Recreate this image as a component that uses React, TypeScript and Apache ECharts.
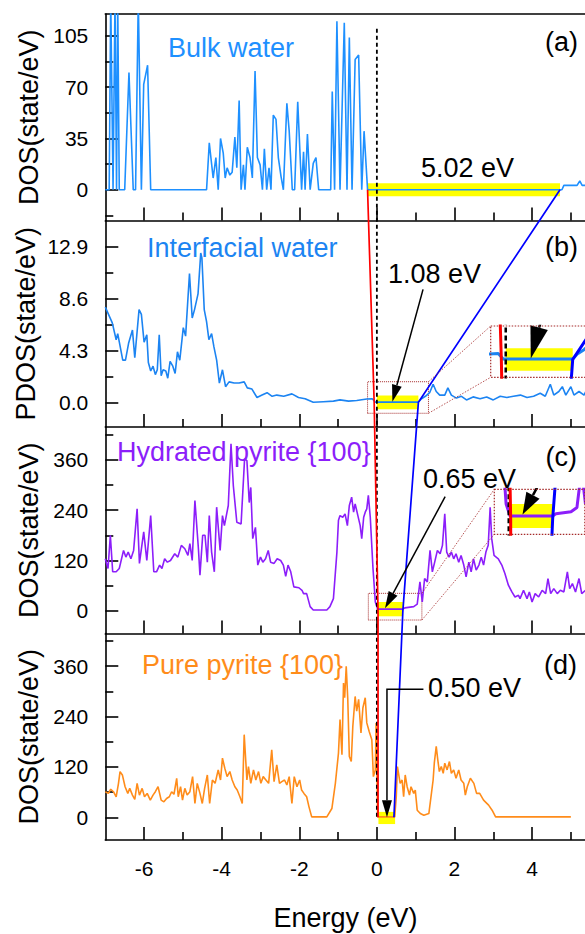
import React, { useEffect, useRef } from "react";
import * as echarts from "echarts";

// ---------------- DATA ----------------
const energyMajorTicks = [-6, -4, -2, 0, 2, 4];
const energyMinorTicks = [-5, -3, -1, 1, 3, 5];

const panelAxisNames = ["DOS(state/eV)", "PDOS(state/eV)", "DOS(state/eV)", "DOS(state/eV)"];
const panelTitles = ["Bulk water", "Interfacial water", "Hydrated pyrite {100}", "Pure pyrite {100}"];
const panelLetters = ["(a)", "(b)", "(c)", "(d)"];
const gapLabels = ["5.02 eV", "1.08 eV", "0.65 eV", "0.50 eV"];

const yMajorTicks = [[0, 35, 70, 105], [0, 4.3, 8.6, 12.9], [0, 120, 240, 360], [0, 120, 240, 360]];
const yMinorTicks = [[-17.5, 17.5, 52.5, 87.5], [2.15, 6.45, 10.75], [60, 180, 300, 420], [60, 180, 300, 420]];
const yRanges = [[-21, 120], [-2.05, 15.1], [-54, 438], [-54, 438]];

// band edges (eV): start / end of the yellow gap bars, red (VBM) and blue (CBM) connector points
const gapStart = [-0.24, 0.0, 0.03, 0.04];
const gapEnd = [4.72, 1.07, 0.67, 0.47];
const vbmEnergy = [-0.24, -0.07, 0.03, 0.03];
const cbmEnergy = [4.72, 1.07, 0.67, 0.44];
const yellowBand = [[-4.5, 4.5], [-0.57, 0.57], [-13, 21], [-16, 13]];
const dashTopValue = 110;

// arrows [energy, value]
const arrowBTail = [1.19, 9.38];
const arrowBTip = [0.4, 0.05];
const arrowCTail = [1.76, 272];
const arrowCTip = [0.21, 6];
const arrowDPath = [[1.2, 305], [0.26, 305], [0.26, 0]];

// zoom boxes (data ranges)
const insetBX = [-0.24, 1.33];
const insetBY = [-0.91, 1.71];
const insetCX = [-0.22, 1.16];
const insetCY = [-21.9, 41.7];

const bulkWaterDos = [
  [-7.0, 0], [-6.9, 0], [-6.86, 130], [-6.8, 0], [-6.75, 130], [-6.71, 0], [-6.68, 130], [-6.64, 0],
  [-6.5, 0], [-6.39, 80], [-6.28, 0], [-6.22, 0], [-6.15, 130], [-6.07, 0], [-6.01, 72], [-5.91, 85],
  [-5.83, 0], [-4.39, 0], [-4.32, 32], [-4.22, 8], [-4.15, 22], [-4.09, 0], [-4.03, 35], [-3.96, 25],
  [-3.91, 8], [-3.86, 15], [-3.79, 10], [-3.73, 12], [-3.66, 36], [-3.61, 15], [-3.55, 61], [-3.5, 0],
  [-3.44, 17], [-3.4, 0], [-3.34, 29], [-3.27, 22], [-3.21, 8], [-3.14, 81], [-3.08, 22], [-3.01, 17],
  [-2.95, 0], [-2.9, 28], [-2.84, 0], [-2.78, 15], [-2.73, 0], [-2.67, 51], [-2.6, 48], [-2.54, 22],
  [-2.47, 9], [-2.41, 0], [-2.32, 59], [-2.26, 40], [-2.18, 0], [-2.12, 0], [-2.04, 60], [-1.94, 0],
  [-1.89, 26], [-1.85, 0], [-1.79, 38], [-1.72, 0], [-1.64, 18], [-1.57, 22], [-1.5, 0], [-1.19, 0],
  [-1.15, 67], [-1.09, 0], [-1.03, 115], [-0.95, 0], [-0.84, 114], [-0.77, 0], [-0.71, 104], [-0.64, 0],
  [-0.56, 89], [-0.47, 92], [-0.39, 0], [-0.33, 40], [-0.24, 0], [4.77, 0], [4.82, 3], [5.16, 3],
  [5.23, 6], [5.29, 3], [5.38, 3]
];

const interfacialWaterDos = [
  [-7.0, 7.9], [-6.82, 6.6], [-6.72, 5.2], [-6.68, 5.7], [-6.55, 3.5], [-6.48, 3.5], [-6.4, 4.9],
  [-6.3, 6.0], [-6.24, 3.7], [-6.13, 7.7], [-6.07, 7.3], [-6.0, 5.0], [-5.93, 5.6], [-5.89, 3.3],
  [-5.83, 2.6], [-5.77, 3.0], [-5.71, 2.3], [-5.66, 2.7], [-5.61, 5.6], [-5.56, 2.2], [-5.51, 2.7],
  [-5.44, 2.6], [-5.39, 2.0], [-5.33, 3.4], [-5.26, 3.0], [-5.2, 2.4], [-5.14, 4.2], [-5.08, 3.5],
  [-4.99, 6.2], [-4.93, 5.5], [-4.83, 10.7], [-4.76, 7.0], [-4.7, 7.7], [-4.61, 9.0], [-4.54, 12.4],
  [-4.51, 12.0], [-4.45, 7.7], [-4.39, 6.7], [-4.33, 5.2], [-4.26, 5.7], [-4.2, 4.6], [-4.13, 3.5],
  [-4.06, 1.6], [-3.98, 2.7], [-3.9, 1.3], [-3.81, 1.7], [-3.68, 1.6], [-3.55, 1.6], [-3.42, 1.7],
  [-3.34, 1.2], [-3.22, 1.1], [-3.09, 0.4], [-2.96, 0.6], [-2.83, 0.8], [-2.7, 0.5], [-2.58, 0.6],
  [-2.4, 0.5], [-2.19, 0.7], [-2.02, 0.4], [-1.85, 0.3], [-1.64, 0.0], [-1.38, 0.05], [-1.12, 0.1],
  [-0.95, 0.2], [-0.73, 0.1], [-0.52, 0.15], [-0.26, 0.28], [-0.12, 0.3], [-0.04, 0.02], [1.07, 0.02],
  [1.15, 0.3], [1.25, 0.5], [1.36, 0.8], [1.45, 1.5], [1.53, 0.9], [1.62, 0.6], [1.75, 0.6], [1.83, 1.2],
  [1.92, 0.6], [2.05, 0.35], [2.18, 0.5], [2.31, 0.2], [2.48, 0.45], [2.66, 0.3], [2.83, 0.45], [3.0, 0.2],
  [3.18, 0.5], [3.35, 0.4], [3.52, 0.5], [3.7, 0.6], [3.87, 0.4], [4.04, 0.5], [4.21, 0.75], [4.34, 0.5],
  [4.47, 1.5], [4.56, 0.6], [4.69, 0.9], [4.78, 1.3], [4.87, 0.6], [5.0, 1.3], [5.08, 0.6], [5.21, 0.9],
  [5.34, 0.6], [5.4, 1.0]
];

const hydratedPyriteDos = [
  [-7.0, 124], [-6.93, 101], [-6.87, 180], [-6.81, 93], [-6.72, 93], [-6.64, 101], [-6.53, 144], [-6.47, 128],
  [-6.41, 140], [-6.34, 124], [-6.27, 144], [-6.18, 243], [-6.12, 113], [-6.01, 188], [-5.93, 120], [-5.83, 227],
  [-5.75, 93], [-5.68, 93], [-5.6, 109], [-5.54, 101], [-5.47, 124], [-5.4, 116], [-5.32, 120], [-5.21, 136],
  [-5.13, 128], [-5.04, 156], [-4.95, 148], [-4.87, 132], [-4.82, 160], [-4.76, 120], [-4.69, 263], [-4.6, 148],
  [-4.56, 85], [-4.49, 180], [-4.43, 180], [-4.37, 116], [-4.32, 227], [-4.26, 140], [-4.19, 93], [-4.13, 247],
  [-4.04, 144], [-3.98, 227], [-3.93, 203], [-3.83, 251], [-3.76, 398], [-3.7, 298], [-3.61, 211], [-3.5, 207],
  [-3.41, 362], [-3.35, 358], [-3.29, 258], [-3.25, 294], [-3.2, 172], [-3.13, 199], [-3.07, 109], [-3.0, 128],
  [-2.94, 116], [-2.87, 124], [-2.8, 144], [-2.74, 116], [-2.65, 113], [-2.57, 124], [-2.48, 120], [-2.41, 109],
  [-2.35, 82], [-2.29, 109], [-2.22, 93], [-2.14, 57], [-2.01, 55], [-1.93, 49], [-1.89, 41], [-1.81, 41],
  [-1.72, 10], [-1.64, 2], [-1.29, 2], [-1.21, 10], [-1.12, 29], [-1.03, 140], [-0.99, 216], [-0.95, 227],
  [-0.88, 223], [-0.82, 231], [-0.76, 203], [-0.71, 251], [-0.65, 271], [-0.6, 235], [-0.56, 255], [-0.49, 227],
  [-0.43, 203], [-0.39, 172], [-0.34, 223], [-0.3, 235], [-0.26, 243], [-0.22, 275], [-0.17, 223], [-0.1, 101],
  [-0.04, 21], [0.02, 4], [0.67, 4], [0.72, 7], [0.95, 10], [1.04, 16], [1.11, 69], [1.17, 21], [1.23, 77],
  [1.3, 69], [1.37, 144], [1.43, 93], [1.49, 116], [1.56, 144], [1.63, 136], [1.69, 156], [1.75, 231], [1.8, 140],
  [1.86, 128], [1.92, 140], [1.98, 124], [2.04, 136], [2.11, 116], [2.17, 132], [2.24, 109], [2.3, 81], [2.37, 116],
  [2.43, 93], [2.49, 124], [2.56, 97], [2.63, 109], [2.69, 128], [2.75, 109], [2.81, 140], [2.87, 156], [2.92, 247],
  [2.96, 172], [3.02, 132], [3.13, 124], [3.22, 109], [3.3, 89], [3.39, 61], [3.48, 45], [3.56, 33], [3.65, 37],
  [3.69, 29], [3.78, 49], [3.87, 29], [3.93, 45], [4.0, 21], [4.08, 41], [4.17, 33], [4.26, 49], [4.35, 41],
  [4.41, 77], [4.48, 41], [4.56, 53], [4.65, 41], [4.73, 49], [4.82, 45], [4.91, 93], [4.97, 53], [5.04, 65],
  [5.12, 45], [5.21, 77], [5.28, 41], [5.38, 49]
];

const purePyriteDos = [
  [-7.0, 61], [-6.92, 57], [-6.86, 67], [-6.79, 61], [-6.72, 49], [-6.66, 81], [-6.62, 109], [-6.56, 101],
  [-6.49, 73], [-6.42, 57], [-6.37, 69], [-6.3, 53], [-6.24, 43], [-6.18, 81], [-6.12, 53], [-6.05, 69],
  [-5.99, 49], [-5.92, 57], [-5.84, 41], [-5.77, 53], [-5.71, 61], [-5.64, 73], [-5.56, 41], [-5.49, 37],
  [-5.42, 45], [-5.35, 49], [-5.29, 61], [-5.23, 55], [-5.16, 93], [-5.12, 49], [-5.06, 73], [-5.01, 41],
  [-4.95, 69], [-4.89, 53], [-4.82, 61], [-4.75, 97], [-4.69, 33], [-4.63, 81], [-4.56, 57], [-4.5, 33],
  [-4.44, 69], [-4.37, 101], [-4.31, 33], [-4.24, 89], [-4.17, 81], [-4.09, 113], [-4.03, 89], [-3.98, 141],
  [-3.92, 117], [-3.86, 97], [-3.79, 109], [-3.73, 89], [-3.66, 73], [-3.6, 65], [-3.53, 49], [-3.47, 33],
  [-3.42, 197], [-3.35, 89], [-3.31, 121], [-3.25, 81], [-3.18, 113], [-3.12, 89], [-3.05, 109], [-2.99, 81],
  [-2.93, 97], [-2.86, 89], [-2.79, 81], [-2.71, 161], [-2.65, 85], [-2.58, 125], [-2.51, 81], [-2.45, 85],
  [-2.38, 89], [-2.32, 77], [-2.26, 97], [-2.19, 33], [-2.13, 97], [-2.06, 73], [-1.99, 89], [-1.94, 65],
  [-1.88, 57], [-1.81, 49], [-1.75, 25], [-1.68, 1], [-1.29, 1], [-1.16, 21], [-1.07, 81], [-0.99, 153],
  [-0.95, 233], [-0.9, 149], [-0.86, 320], [-0.83, 285], [-0.79, 360], [-0.75, 281], [-0.71, 145], [-0.66, 133],
  [-0.62, 217], [-0.56, 288], [-0.52, 253], [-0.47, 281], [-0.41, 201], [-0.36, 261], [-0.3, 285], [-0.26, 225],
  [-0.2, 205], [-0.13, 185], [-0.09, 97], [-0.04, 113], [-0.02, 225], [0.02, 1], [0.46, 1], [0.5, 49],
  [0.53, 121], [0.6, 81], [0.65, 89], [0.69, 49], [0.73, 101], [0.78, 73], [0.84, 53], [0.88, 73], [0.95, 57],
  [0.99, 65], [1.04, 17], [1.12, 9], [1.21, 5], [1.34, 9], [1.45, 89], [1.48, 129], [1.53, 169], [1.57, 137],
  [1.61, 109], [1.66, 121], [1.71, 105], [1.75, 129], [1.81, 113], [1.87, 133], [1.92, 105], [1.98, 113],
  [2.04, 93], [2.11, 113], [2.17, 89], [2.24, 81], [2.28, 53], [2.33, 73], [2.41, 93], [2.5, 81], [2.57, 57],
  [2.65, 57], [2.75, 41], [2.88, 29], [2.97, 17], [3.06, 1], [5.0, 1]
];

const panelData = [bulkWaterDos, interfacialWaterDos, hydratedPyriteDos, purePyriteDos];

// ---------------- STYLE / LAYOUT ----------------
const FONT = "Liberation Sans, Arial, Helvetica, sans-serif";
const BLACK = "#000000";
const RED = "#FF0000";
const BLUE = "#0000FF";
const YELLOW = "#FFFF00";
const BOX = "#A52A2A";
const panelColors = ["#1E90FF", "#1C84F2", "#8C1EFA", "#FF8C1A"];

const PLOT_LEFT = 105.3;
const PLOT_WIDTH = 480.3;
const PANEL_TOPS = [14, 220.5, 427, 633.5];
const PANEL_HEIGHT = 206.5;
const NAME_GAPS = [63, 66, 63, 63];
const X_MIN = -7;
const X_MAX = 5.38;
const INSET_B_RECT = { left: 490.7, top: 326, width: 98.3, height: 51.3 };
const INSET_C_RECT = { left: 494.3, top: 489.3, width: 90.5, height: 45 };

const textItems = [
  { text: panelTitles[0], x: 168, y: 47.5, color: panelColors[0], align: "left" },
  { text: panelLetters[0], x: 578, y: 42, color: BLACK, align: "right" },
  { text: gapLabels[0], x: 421, y: 168, color: BLACK, align: "left" },
  { text: panelTitles[1], x: 147, y: 248, color: panelColors[1], align: "left" },
  { text: panelLetters[1], x: 578, y: 247, color: BLACK, align: "right" },
  { text: gapLabels[1], x: 388, y: 274, color: BLACK, align: "left" },
  { text: panelTitles[2], x: 117, y: 452, color: panelColors[2], align: "left" },
  { text: panelLetters[2], x: 577, y: 457, color: BLACK, align: "right" },
  { text: gapLabels[2], x: 423, y: 479, color: BLACK, align: "left" },
  { text: panelTitles[3], x: 142, y: 665, color: panelColors[3], align: "left" },
  { text: panelLetters[3], x: 577, y: 665, color: BLACK, align: "right" },
  { text: gapLabels[3], x: 428, y: 688, color: BLACK, align: "left" }
];

function buildBase(): any {
  const grid: any[] = [];
  PANEL_TOPS.forEach((t) =>
    grid.push({ left: PLOT_LEFT, top: t, width: PLOT_WIDTH, height: PANEL_HEIGHT, outerBoundsMode: "none" })
  );
  grid.push({ ...INSET_B_RECT, outerBoundsMode: "none" });
  grid.push({ ...INSET_C_RECT, outerBoundsMode: "none" });

  const xAxis: any[] = [];
  const yAxis: any[] = [];
  for (let i = 0; i < 4; i++) {
    xAxis.push({
      type: "value", gridIndex: i, min: X_MIN, max: X_MAX, position: "bottom",
      axisLine: { show: true, onZero: false, lineStyle: { color: BLACK, width: 1.6 } },
      axisTick: { show: true, inside: true, length: 13, customValues: energyMajorTicks, lineStyle: { color: BLACK, width: 1.6 } },
      axisLabel: { show: i === 3, customValues: energyMajorTicks, fontSize: 21, color: BLACK, margin: 18, fontFamily: FONT },
      splitLine: { show: false },
      name: i === 3 ? "Energy (eV)" : "",
      nameLocation: "middle", nameGap: 64, nameMoveOverlap: false,
      nameTextStyle: { fontSize: 27, color: BLACK, fontFamily: FONT }
    });
    xAxis.push({
      type: "value", gridIndex: i, min: X_MIN, max: X_MAX, position: "bottom",
      axisLine: { show: false, onZero: false },
      axisTick: { show: true, inside: true, length: 8, customValues: energyMinorTicks, lineStyle: { color: BLACK, width: 1.6 } },
      axisLabel: { show: false }, splitLine: { show: false }
    });
    const fmt = i === 1 ? (v: number) => v.toFixed(1) : (v: number) => String(v);
    yAxis.push({
      type: "value", gridIndex: i, min: yRanges[i][0], max: yRanges[i][1], position: "left",
      axisLine: { show: true, onZero: false, lineStyle: { color: BLACK, width: 1.6 } },
      axisTick: { show: true, inside: true, length: 13, customValues: yMajorTicks[i], lineStyle: { color: BLACK, width: 1.6 } },
      axisLabel: { show: true, customValues: yMajorTicks[i], formatter: fmt, fontSize: 21, color: BLACK, margin: 17, fontFamily: FONT },
      splitLine: { show: false },
      name: panelAxisNames[i], nameLocation: "middle", nameGap: NAME_GAPS[i], nameMoveOverlap: false,
      nameTextStyle: { fontSize: 27, color: BLACK, fontFamily: FONT }
    });
    yAxis.push({
      type: "value", gridIndex: i, min: yRanges[i][0], max: yRanges[i][1], position: "left",
      axisLine: { show: false, onZero: false },
      axisTick: { show: true, inside: true, length: 8, customValues: yMinorTicks[i], lineStyle: { color: BLACK, width: 1.6 } },
      axisLabel: { show: false }, splitLine: { show: false }
    });
  }
  // index 8: top frame line of panel (a)
  xAxis.push({
    type: "value", gridIndex: 0, min: X_MIN, max: X_MAX, position: "top",
    axisLine: { show: true, onZero: false, lineStyle: { color: BLACK, width: 1.6 } },
    axisTick: { show: false }, axisLabel: { show: false }, splitLine: { show: false }
  });
  // inset axes: x 9,10 ; y 8,9
  const hidden = (gi: number, r: number[]) => ({ type: "value", gridIndex: gi, min: r[0], max: r[1], show: false });
  xAxis.push(hidden(4, insetBX));
  xAxis.push(hidden(5, insetCX));
  yAxis.push(hidden(4, insetBY));
  yAxis.push(hidden(5, insetCY));

  const series: any[] = [];
  for (let i = 0; i < 4; i++) {
    const areas: any[] = [
      [
        { coord: [gapStart[i], yellowBand[i][0]], itemStyle: { color: YELLOW, borderWidth: 0 } },
        { coord: [gapEnd[i], yellowBand[i][1]] }
      ]
    ];
    if (i === 1 || i === 2) {
      const bx = i === 1 ? insetBX : insetCX;
      const by = i === 1 ? insetBY : insetCY;
      areas.push([
        { coord: [bx[0], by[0]], itemStyle: { color: "rgba(0,0,0,0)", borderColor: BOX, borderWidth: 1, borderType: "dotted" } },
        { coord: [bx[1], by[1]] }
      ]);
    }
    series.push({
      type: "line", xAxisIndex: 2 * i, yAxisIndex: 2 * i, data: [[X_MIN, 0]], symbol: "none", silent: true, z: 1,
      lineStyle: { width: 0 },
      markArea: { silent: true, label: { show: false }, data: areas }
    });
    series.push({
      type: "line", xAxisIndex: 2 * i, yAxisIndex: 2 * i, data: panelData[i], symbol: "none", silent: true, z: 3,
      clip: true, lineStyle: { color: panelColors[i], width: 1.6 }, itemStyle: { color: panelColors[i] }
    });
  }
  // insets
  const insetDefs = [
    { xi: 9, yi: 8, p: 1 },
    { xi: 10, yi: 9, p: 2 }
  ];
  insetDefs.forEach((d) => {
    series.push({
      type: "line", xAxisIndex: d.xi, yAxisIndex: d.yi, data: [[gapStart[d.p], 0]], symbol: "none", silent: true, z: 1,
      lineStyle: { width: 0 },
      markArea: {
        silent: true, label: { show: false },
        data: [[
          { coord: [gapStart[d.p], yellowBand[d.p][0]], itemStyle: { color: YELLOW, borderWidth: 0 } },
          { coord: [gapEnd[d.p], yellowBand[d.p][1]] }
        ]]
      }
    });
    series.push({
      type: "line", xAxisIndex: d.xi, yAxisIndex: d.yi, data: panelData[d.p], symbol: "none", silent: true, z: 3,
      clip: true, lineStyle: { color: panelColors[d.p], width: 3 }
    });
  });

  return {
    animation: false,
    backgroundColor: "#ffffff",
    textStyle: { fontFamily: FONT },
    grid, xAxis, yAxis, series
  };
}

function arrowHead(tip: number[], from: number[], len: number, wid: number) {
  const dx = tip[0] - from[0];
  const dy = tip[1] - from[1];
  const L = Math.hypot(dx, dy) || 1;
  const ux = dx / L, uy = dy / L;
  const bx = tip[0] - ux * len, by = tip[1] - uy * len;
  const nx = -uy, ny = ux;
  return {
    base: [bx, by],
    pts: [[tip[0], tip[1]], [bx + (nx * wid) / 2, by + (ny * wid) / 2], [bx - (nx * wid) / 2, by - (ny * wid) / 2]]
  };
}

function buildOverlay(chart: any) {
  const P = (xi: number, yi: number, pt: number[]) =>
    chart.convertToPixel({ xAxisIndex: xi, yAxisIndex: yi }, pt) as number[];
  const D = (xi: number, yi: number, px: number[]) =>
    chart.convertFromPixel({ xAxisIndex: xi, yAxisIndex: yi }, px) as number[];

  const redPts = [0, 1, 2, 3].map((i) => P(2 * i, 2 * i, [vbmEnergy[i], 0]));
  const bluePts = [0, 1, 2, 3].map((i) => P(2 * i, 2 * i, [cbmEnergy[i], 0]));
  const zTop = P(0, 0, [0, dashTopValue]);
  const zBot = P(6, 6, [0, 0]);

  const graphic: any[] = [];
  const series: any[] = [];

  graphic.push({
    type: "line", silent: true, z: 50,
    shape: { x1: zTop[0], y1: zTop[1], x2: zBot[0], y2: zBot[1] },
    style: { stroke: BLACK, lineWidth: 1.8, lineDash: [4, 3] }
  });
  graphic.push({ type: "polyline", silent: true, z: 60, shape: { points: redPts }, style: { stroke: RED, lineWidth: 1.7, fill: null } });
  graphic.push({ type: "polyline", silent: true, z: 60, shape: { points: bluePts }, style: { stroke: BLUE, lineWidth: 1.7, fill: null } });

  // main arrows
  const mainArrows = [
    { xi: 2, yi: 2, tail: arrowBTail, tip: arrowBTip },
    { xi: 4, yi: 4, tail: arrowCTail, tip: arrowCTip }
  ];
  mainArrows.forEach((a) => {
    const t0 = P(a.xi, a.yi, a.tail);
    const t1 = P(a.xi, a.yi, a.tip);
    const h = arrowHead(t1, t0, 17, 10);
    graphic.push({ type: "line", silent: true, z: 70, shape: { x1: t0[0], y1: t0[1], x2: h.base[0], y2: h.base[1] }, style: { stroke: BLACK, lineWidth: 1.5 } });
    graphic.push({ type: "polygon", silent: true, z: 70, shape: { points: h.pts }, style: { fill: BLACK } });
  });
  {
    const pts = arrowDPath.map((p) => P(6, 6, p));
    const h = arrowHead(pts[2], pts[1], 17, 10);
    graphic.push({ type: "polyline", silent: true, z: 70, shape: { points: [pts[0], pts[1], h.base] }, style: { stroke: BLACK, lineWidth: 1.5, fill: null } });
    graphic.push({ type: "polygon", silent: true, z: 70, shape: { points: h.pts }, style: { fill: BLACK } });
  }

  // insets: cross lines, dashed zero, arrows, borders, connectors
  const insets = [
    { mx: 2, my: 2, ix: 9, iy: 8, bx: insetBX, by: insetBY, tail: arrowBTail, tip: arrowBTip, hl: 32, hw: 18 },
    { mx: 4, my: 4, ix: 10, iy: 9, bx: insetCX, by: insetCY, tail: arrowCTail, tip: arrowCTip, hl: 22, hw: 15 }
  ];
  insets.forEach((s) => {
    const span = s.by[1] - s.by[0];
    series.push({
      type: "line", xAxisIndex: s.ix, yAxisIndex: s.iy, symbol: "none", silent: true, z: 5, clip: true,
      data: [[0, s.by[0] - span], [0, s.by[1] + span]],
      lineStyle: { color: BLACK, width: 2.5, type: [5, 3] }
    });
    series.push({
      type: "line", xAxisIndex: s.ix, yAxisIndex: s.iy, symbol: "none", silent: true, z: 6, clip: true,
      data: redPts.map((p) => D(s.mx, s.my, p)), lineStyle: { color: RED, width: 3 }
    });
    series.push({
      type: "line", xAxisIndex: s.ix, yAxisIndex: s.iy, symbol: "none", silent: true, z: 6, clip: true,
      data: bluePts.map((p) => D(s.mx, s.my, p)), lineStyle: { color: BLUE, width: 3 }
    });
    const tipI = P(s.ix, s.iy, s.tip);
    const tailI = P(s.ix, s.iy, s.tail);
    const h = arrowHead(tipI, tailI, s.hl, s.hw);
    series.push({
      type: "line", xAxisIndex: s.ix, yAxisIndex: s.iy, symbol: "none", silent: true, z: 7, clip: true,
      data: [s.tail, D(s.ix, s.iy, h.base)], lineStyle: { color: BLACK, width: 2.5 }
    });
    graphic.push({ type: "polygon", silent: true, z: 70, shape: { points: h.pts }, style: { fill: BLACK } });

    const c1 = P(s.ix, s.iy, [s.bx[0], s.by[1]]);
    const c2 = P(s.ix, s.iy, [s.bx[1], s.by[0]]);
    graphic.push({
      type: "rect", silent: true, z: 72,
      shape: { x: c1[0], y: c1[1], width: c2[0] - c1[0], height: c2[1] - c1[1] },
      style: { fill: null, stroke: BOX, lineWidth: 1.2, lineDash: [1.5, 1.5] }
    });
    const mTR = P(s.mx, s.my, [s.bx[1], s.by[1]]);
    const mBR = P(s.mx, s.my, [s.bx[1], s.by[0]]);
    const iTL = P(s.ix, s.iy, [s.bx[0], s.by[1]]);
    const iBL = P(s.ix, s.iy, [s.bx[0], s.by[0]]);
    [[mTR, iTL], [mBR, iBL]].forEach(([a, b]) =>
      graphic.push({
        type: "line", silent: true, z: 72,
        shape: { x1: a[0], y1: a[1], x2: b[0], y2: b[1] },
        style: { stroke: BOX, lineWidth: 0.8, lineDash: [1.5, 1.5] }
      })
    );
  });

  textItems.forEach((t) =>
    graphic.push({
      type: "text", silent: true, z: 80, x: t.x, y: t.y,
      style: {
        text: t.text, fill: t.color, fontSize: 27, fontFamily: FONT,
        align: t.align, textAlign: t.align, verticalAlign: "middle", textVerticalAlign: "middle"
      }
    })
  );

  return { graphic, series };
}

export default function App() {
  const ref = useRef<HTMLDivElement>(null);
  useEffect(() => {
    const el = ref.current;
    if (!el) return;
    const chart = echarts.init(el, undefined, { renderer: "svg", width: 585, height: 934 });
    const base = buildBase();
    chart.setOption(base);
    const extra = buildOverlay(chart);
    chart.setOption({ ...base, series: [...base.series, ...extra.series], graphic: extra.graphic }, true);
    return () => chart.dispose();
  }, []);
  return (
    <div
      ref={ref}
      style={{ position: "fixed", left: 0, top: 0, width: 585, height: 934, background: "#ffffff" }}
    />
  );
}
